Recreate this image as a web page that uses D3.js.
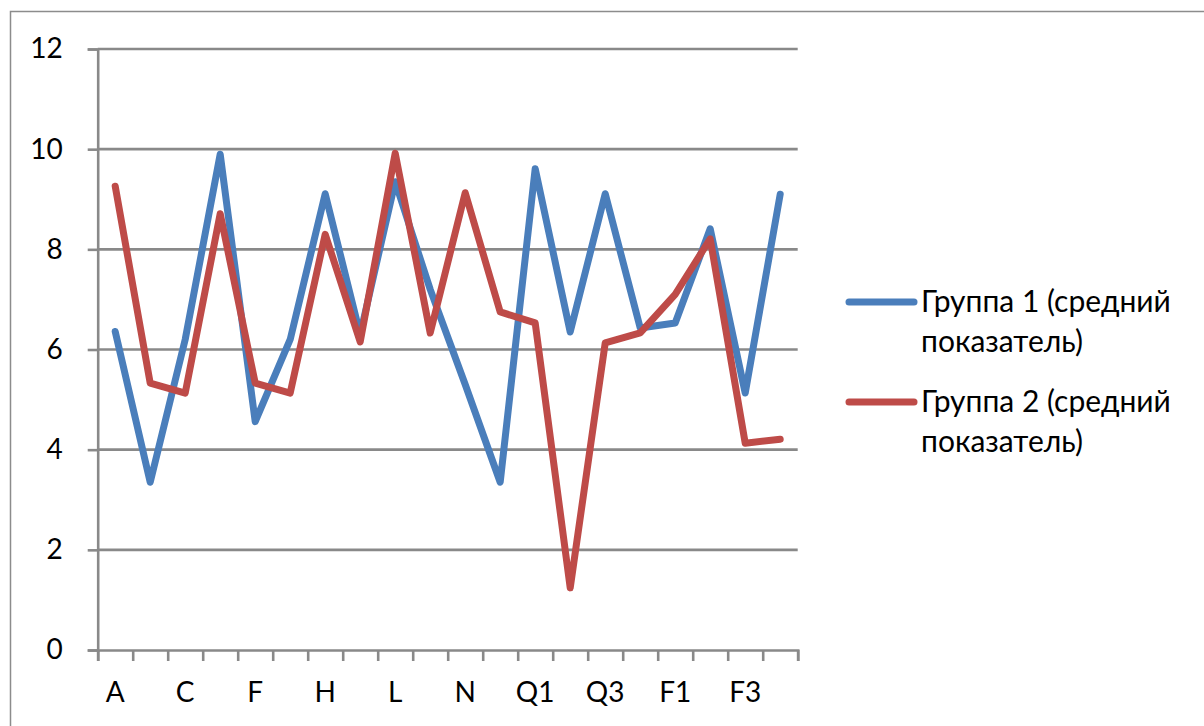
<!DOCTYPE html>
<html>
<head>
<meta charset="utf-8">
<script src="https://cdn.jsdelivr.net/npm/d3@7"></script>
<style>
  html, body { margin: 0; padding: 0; background: #ffffff; }
  svg text { font-family: Lato, "Open Sans", "DejaVu Sans", sans-serif; fill: #000; }
</style>
</head>
<body>
<svg id="chart" width="1204" height="726"></svg>
<script>
// Categories along the x axis (only every other one is labelled)
const categories = ["A", "B", "C", "D", "F", "G", "H", "K", "L", "M",
                    "N", "P", "Q1", "Q2", "Q3", "Q4", "F1", "F2", "F3", "F4"];

// Group averages
const group1 = [6.36, 3.35, 6.2, 9.9, 4.56, 6.2, 9.11, 6.3, 9.35, 7.2,
                5.3, 3.35, 9.61, 6.35, 9.11, 6.43, 6.53, 8.41, 5.13, 9.1];
const group2 = [9.26, 5.33, 5.13, 8.71, 5.33, 5.13, 8.3, 6.15, 9.92, 6.33,
                9.13, 6.75, 6.53, 1.24, 6.13, 6.33, 7.1, 8.21, 4.13, 4.21];

const seriesNames = ["Группа 1 (средний показатель)", "Группа 2 (средний показатель)"];
const yTicks = [0, 2, 4, 6, 8, 10, 12];

const colors = ["#4A7EBB", "#BE4B48"];
const gridColor = "#898989";

const svg = d3.select("#chart");

// Outer chart frame
svg.append("rect")
  .attr("x", 10.5).attr("y", 11.5)
  .attr("width", 1230).attr("height", 760)
  .attr("fill", "none").attr("stroke", "#8c8c8c").attr("stroke-width", 1.5);

const plot = { left: 97.7, right: 797.7, top: 49, bottom: 650 };

const x = d3.scaleBand().domain(categories).range([plot.left, plot.right]).padding(0);
const y = d3.scaleLinear().domain([0, 12]).range([plot.bottom, plot.top]);

// Horizontal gridlines
svg.append("g")
  .selectAll("line")
  .data(yTicks.filter(d => d > 0))
  .join("line")
  .attr("x1", plot.left).attr("x2", plot.right)
  .attr("y1", d => y(d)).attr("y2", d => y(d))
  .attr("stroke", gridColor).attr("stroke-width", 2.6);

// Y axis
const yAxis = svg.append("g")
  .attr("transform", `translate(${plot.left},0)`)
  .call(d3.axisLeft(y).tickValues(yTicks).tickSize(10).tickPadding(25).tickFormat(d3.format("d")));
yAxis.select(".domain").attr("stroke", gridColor).attr("stroke-width", 2.6);
yAxis.selectAll(".tick line").attr("stroke", gridColor).attr("stroke-width", 2.6);
yAxis.selectAll(".tick text").attr("font-size", 28).attr("fill", "#000")
  .attr("font-family", "Lato, 'Open Sans', sans-serif");

// X axis: tick marks between categories
const boundaries = d3.range(categories.length + 1);
const xEdge = d3.scaleLinear().domain([0, categories.length]).range([plot.left, plot.right]);
const xTickAxis = svg.append("g")
  .attr("transform", `translate(0,${plot.bottom})`)
  .call(d3.axisBottom(xEdge).tickValues(boundaries).tickSize(11).tickFormat(""));
xTickAxis.select(".domain").attr("stroke", gridColor).attr("stroke-width", 2.6);
xTickAxis.selectAll(".tick line").attr("stroke", gridColor).attr("stroke-width", 2.6);

// X axis: category labels, every other one
const xLabelAxis = svg.append("g")
  .attr("transform", `translate(0,${plot.bottom})`)
  .call(d3.axisBottom(x).tickSize(0).tickPadding(32)
        .tickFormat((d, i) => (i % 2 === 0 ? d : "")));
xLabelAxis.select(".domain").remove();
xLabelAxis.selectAll(".tick text").attr("font-size", 28).attr("fill", "#000")
  .attr("font-family", "Lato, 'Open Sans', sans-serif");

// Series lines
const line = d3.line()
  .x((d, i) => x(categories[i]) + x.bandwidth() / 2)
  .y(d => y(d));

[group1, group2].forEach((vals, k) => {
  svg.append("path")
    .datum(vals)
    .attr("d", line)
    .attr("fill", "none")
    .attr("stroke", colors[k])
    .attr("stroke-width", 7)
    .attr("stroke-linejoin", "round")
    .attr("stroke-linecap", "round");
});

// Legend
const legend = svg.append("g");
seriesNames.forEach((name, k) => {
  const cy = 302 + k * 100;
  legend.append("line")
    .attr("x1", 849).attr("x2", 914)
    .attr("y1", cy).attr("y2", cy)
    .attr("stroke", colors[k]).attr("stroke-width", 7)
    .attr("stroke-linecap", "round");
  const words = name.split(" ");
  const firstLine = words.slice(0, 3).join(" ");
  const secondLine = words.slice(3).join(" ");
  const t = legend.append("text")
    .attr("x", 921).attr("y", cy + 10)
    .attr("font-size", 30);
  t.append("tspan").attr("x", 921).attr("dy", 0).text(firstLine);
  t.append("tspan").attr("x", 921).attr("dy", 40).text(secondLine);
});
</script>
</body>
</html>
